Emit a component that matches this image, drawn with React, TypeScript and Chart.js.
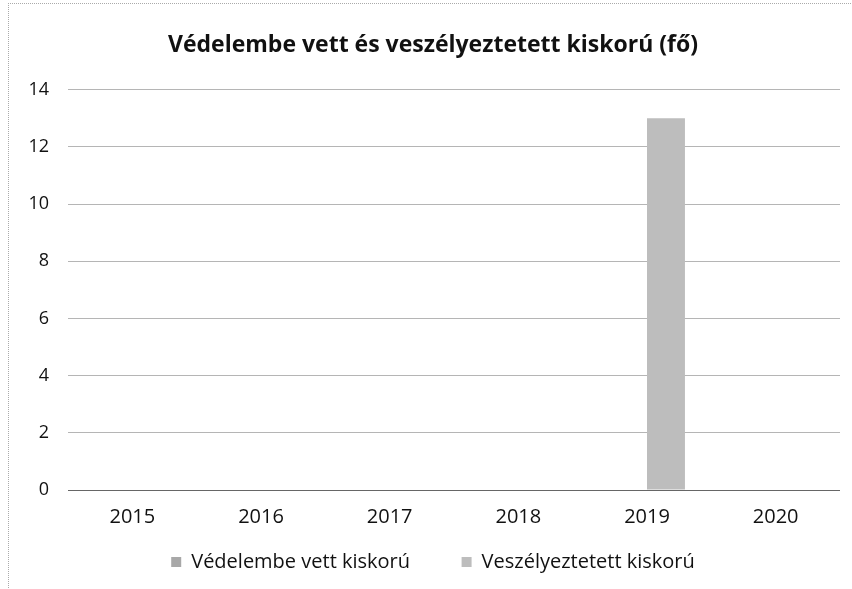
import React, { useEffect, useRef } from "react";
import { Chart, registerables } from "chart.js";

Chart.register(...registerables);

const years = ["2015", "2016", "2017", "2018", "2019", "2020"];
const vedelembeVett = [0, 0, 0, 0, 0, 0];
const veszelyeztetett = [0, 0, 0, 0, 13, 0];
const seriesNames = ["Védelembe vett kiskorú", "Veszélyeztetett kiskorú"];
const titleText = "Védelembe vett és veszélyeztetett kiskorú (fő)";

const FONT = "'Open Sans', 'DejaVu Sans', sans-serif";

export default function App() {
  const ref = useRef<HTMLCanvasElement | null>(null);

  useEffect(() => {
    document.body.style.margin = "0";
    const ctx = ref.current!.getContext("2d")!;
    const chart = new Chart(ctx, {
      type: "bar",
      data: {
        labels: years,
        datasets: [
          {
            label: seriesNames[0],
            data: vedelembeVett,
            backgroundColor: "#a8a8a8",
            barPercentage: 1,
            categoryPercentage: 0.59,
          },
          {
            label: seriesNames[1],
            data: veszelyeztetett,
            backgroundColor: "#bdbdbd",
            barPercentage: 1,
            categoryPercentage: 0.59,
          },
        ],
      },
      options: {
        animation: false,
        responsive: false,
        maintainAspectRatio: false,
        layout: { padding: { top: 10, left: 26, right: 12, bottom: 7 } },
        plugins: {
          title: {
            display: true,
            text: titleText,
            color: "#111",
            font: { family: FONT, size: 23, weight: "bold" },
            padding: { top: 22, bottom: 30 },
          },
          legend: {
            position: "bottom",
            labels: {
              color: "#111",
              font: { family: FONT, size: 20 },
              boxWidth: 10,
              boxHeight: 10,
              padding: 10,
              generateLabels: (c: any) => {
                const items = Chart.defaults.plugins.legend.labels.generateLabels(c);
                items.forEach((it: any, i: number) => {
                  it.lineWidth = 0;
                  if (i === 0) it.text = it.text + "        ";
                });
                return items;
              },
            },
          },
          tooltip: { enabled: false },
        },
        scales: {
          x: {
            grid: { display: false },
            border: { display: false },
            ticks: { color: "#111", font: { family: FONT, size: 20 }, padding: 7 },
            afterFit: (s: any) => {
              s.height = 52;
            },
          },
          y: {
            min: 0,
            max: 14,
            afterFit: (s: any) => {
              s.width = 42;
            },
            ticks: {
              stepSize: 2,
              color: "#111",
              font: { family: FONT, size: 18 },
              padding: 19,
            },
            grid: {
              color: (c: any) => (c.tick && c.tick.value === 0 ? "#666" : "#b5b5b5"),
              drawTicks: false,
            },
            border: { display: false },
          },
        },
      },
    });
    return () => chart.destroy();
  }, []);

  return (
    <div style={{ position: "relative", width: 852, height: 589, background: "#fff" }}>
      <div
        style={{
          position: "absolute",
          left: 8,
          top: 3,
          width: 844,
          height: 586,
          borderLeft: "1px dotted #aaa",
          borderTop: "1px dotted #aaa",
          pointerEvents: "none",
        }}
      />
      <canvas ref={ref} width={852} height={589} style={{ display: "block" }} />
    </div>
  );
}
